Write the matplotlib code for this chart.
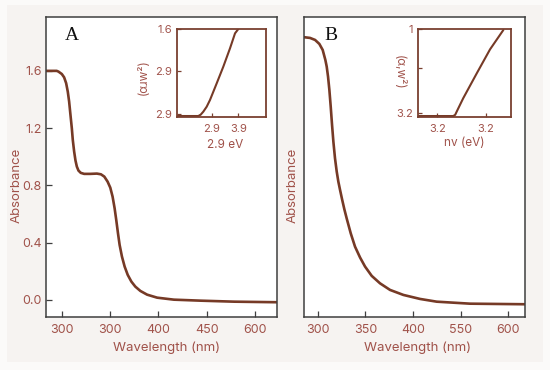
import matplotlib
matplotlib.use("Agg")
import matplotlib.pyplot as plt
from matplotlib.patches import Rectangle

plt.rcParams['font.family'] = ['Inter', 'DejaVu Sans']

# ---- data ----
# Panel A main spectrum
a_wl = [283.3, 294.4, 296.2, 299.7, 302.1, 304.2, 305.9, 307.3, 308.7, 310.1, 311.1, 312.5,
        313.9, 315.3, 317.0, 319.4, 322.9, 329.2, 336.1, 340.3, 343.8, 347.2, 350.0, 352.4,
        354.5, 356.2, 358.0, 359.7, 362.1, 364.9, 368.1, 371.9, 376.0, 381.2, 388.2, 398.6,
        416.0, 443.8, 478.5, 523.6]
a_abs = [1.599, 1.599, 1.594, 1.577, 1.554, 1.513, 1.454, 1.385, 1.291, 1.198, 1.117, 1.036,
         0.973, 0.931, 0.903, 0.887, 0.880, 0.880, 0.882, 0.877, 0.861, 0.826, 0.784, 0.721,
         0.640, 0.558, 0.465, 0.384, 0.303, 0.233, 0.175, 0.128, 0.093, 0.063, 0.037, 0.016,
         0.002, -0.005, -0.012, -0.016]
a_xticks = [300, 350, 400, 450, 500]
a_xticklabels = ["300", "300", "400", "450", "600"]
a_yticks = [0.0, 0.4, 0.8, 1.2, 1.6]
a_yticklabels = ["0.0", "0.4", "0.8", "1.2", "1.6"]

# Panel B main spectrum
b_wl = [285.6, 291.9, 297.2, 301.7, 305.2, 308.0, 309.4, 310.8, 312.2, 313.6, 315.0, 316.4,
        318.1, 319.9, 321.6, 323.4, 325.5, 327.9, 330.4, 334.6, 339.1, 344.4, 349.6, 356.6,
        365.3, 375.8, 389.8, 407.3, 424.7, 459.7, 517.3]
b_abs = [1.834, 1.829, 1.815, 1.787, 1.745, 1.675, 1.629, 1.559, 1.466, 1.350, 1.222, 1.105,
         0.989, 0.896, 0.826, 0.768, 0.703, 0.633, 0.568, 0.465, 0.372, 0.296, 0.233, 0.168,
         0.116, 0.070, 0.035, 0.007, -0.012, -0.026, -0.030]
b_xticks = [300, 350, 400, 450, 500]
b_xticklabels = ["300", "350", "400", "550", "600"]

# Inset A (Tauc plot)
ia_x = [1.607, 2.396, 2.486, 2.584, 2.712, 2.836, 3.088, 3.336, 3.588, 3.776, 3.9]
ia_y = [-0.024, -0.024, -0.008, 0.027, 0.086, 0.165, 0.361, 0.557, 0.773, 0.949, 1.0]
ia_xticks = [2.9, 3.9]
ia_xticklabels = ["2.9", "3.9"]
ia_yticks = [0.0, 0.5, 1.0]
ia_yticklabels = ["2.9", "2.9", "1.6"]

# Inset B (Tauc plot)
ib_x = [3.0215, 3.166, 3.174, 3.180, 3.207, 3.263, 3.318, 3.373]
ib_y = [-0.04, -0.04, -0.025, 0.012, 0.173, 0.472, 0.760, 0.992]
ib_xticks = [3.1, 3.3]
ib_xticklabels = ["3.2", "3.2"]
ib_yticks = [0.0, 0.53, 1.0]
ib_yticklabels = ["3.2", "", "1"]

# ---- styles ----
curve_c = "#763a26"
label_c = "#a0524a"
spine_c = "#3f3f3f"
inset_c = "#7a4030"

fig = plt.figure(figsize=(5.5, 3.7), dpi=100)
fig.patch.set_facecolor("#fbfaf9")
fig.patches.append(Rectangle((7/550, 8/370), 536/550, 357/370, transform=fig.transFigure,
                             facecolor="#f6f3f1", edgecolor="none", zorder=-10))

def style_main(ax):
    for s in ax.spines.values():
        s.set_color(spine_c)
        s.set_linewidth(1.1)
    ax.tick_params(direction="in", length=4, width=0.9, color=spine_c,
                   labelcolor=label_c, labelsize=9)
    ax.tick_params(axis="x", pad=5)
    ax.tick_params(axis="y", pad=3)

line_kw = dict(color=curve_c, lw=1.9, solid_joinstyle="round", solid_capstyle="round")

axA = fig.add_axes([46/550, 1-317/370, 231/550, 300/370])
axA.plot(a_wl, a_abs, **line_kw)
axA.set_xlim(283.3, 523.0)
axA.set_ylim(-0.119, 1.975)
axA.set_xticks(a_xticks)
axA.set_xticklabels(a_xticklabels)
axA.set_yticks(a_yticks)
axA.set_yticklabels(a_yticklabels)
axA.set_xlabel("Wavelength (nm)", color=label_c, fontsize=9.5)
axA.set_ylabel("Absorbance", color=label_c, fontsize=9.5)
axA.xaxis.set_label_coords(0.52, -0.103)
axA.yaxis.set_label_coords(-0.1255, 0.44)
axA.xaxis.label.set_va("center")
axA.yaxis.label.set_va("center")
style_main(axA)
axA.text(0.113, 0.94, "A", transform=axA.transAxes, family="Liberation Serif",
         fontsize=14, ha="center", va="center", color="#111111")

axB = fig.add_axes([304/550, 1-317/370, 221/550, 300/370])
axB.plot(b_wl, b_abs, **line_kw)
axB.set_xlim(285.6, 517.3)
axB.set_ylim(-0.119, 1.975)
axB.set_xticks(b_xticks)
axB.set_xticklabels(b_xticklabels)
axB.set_yticks([])
axB.set_xlabel("Wavelength (nm)", color=label_c, fontsize=9.5)
axB.set_ylabel("Absorbance", color=label_c, fontsize=9.5)
axB.xaxis.set_label_coords(0.514, -0.103)
axB.yaxis.set_label_coords(-0.051, 0.44)
axB.xaxis.label.set_va("center")
axB.yaxis.label.set_va("center")
style_main(axB)
axB.text(0.12, 0.94, "B", transform=axB.transAxes, family="Liberation Serif",
         fontsize=14, ha="center", va="center", color="#111111")

def style_inset(ax):
    for s in ax.spines.values():
        s.set_color(inset_c)
        s.set_linewidth(1.3)
    ax.tick_params(direction="in", length=3, width=0.9, color=inset_c,
                   labelcolor=label_c, labelsize=8)
    ax.tick_params(axis="x", pad=5)
    ax.tick_params(axis="y", pad=4)

inset_line_kw = dict(color=curve_c, lw=1.5, solid_joinstyle="round", solid_capstyle="round")

iA = fig.add_axes([177.3/550, 1-116.7/370, 88.7/550, 87.7/370])
iA.plot(ia_x, ia_y, **inset_line_kw)
iA.set_xlim(1.607, 4.94)
iA.set_ylim(-0.032, 1.0)
iA.set_xticks(ia_xticks)
iA.set_xticklabels(ia_xticklabels)
iA.set_yticks(ia_yticks)
iA.set_yticklabels(ia_yticklabels)
iA.set_xlabel("2.9 eV", color=label_c, fontsize=8.5)
iA.set_ylabel("(αɹw²)", color=label_c, fontsize=8.5)
iA.xaxis.set_label_coords((225 - 177.3)/88.7, -(145 - 116.7)/87.7)
iA.yaxis.set_label_coords((144 - 177.3)/88.7, (116.7 - 77.5)/87.7)
iA.xaxis.label.set_va("center")
iA.yaxis.label.set_va("center")
style_inset(iA)

iB = fig.add_axes([418.3/550, 1-116.7/370, 92.7/550, 87.4/370])
iB.plot(ib_x, ib_y, **inset_line_kw)
iB.set_xlim(3.0215, 3.4045)
iB.set_ylim(-0.048, 1.0)
iB.set_xticks(ib_xticks)
iB.set_xticklabels(ib_xticklabels)
iB.set_yticks(ib_yticks)
iB.set_yticklabels(ib_yticklabels)
iB.set_xlabel("nv (eV)", color=label_c, fontsize=8.5)
iB.set_ylabel("(α,w²)", color=label_c, fontsize=8.5, rotation=270)
iB.xaxis.set_label_coords((464 - 418.3)/92.7, -(143 - 116.7)/87.4)
iB.yaxis.set_label_coords((399 - 418.3)/92.7, (116.7 - 72.5)/87.4)
iB.xaxis.label.set_va("center")
iB.yaxis.label.set_va("center")
iB.yaxis.label.set_ha("center")
style_inset(iB)

fig.savefig("out.png", dpi=100, facecolor=fig.get_facecolor())
